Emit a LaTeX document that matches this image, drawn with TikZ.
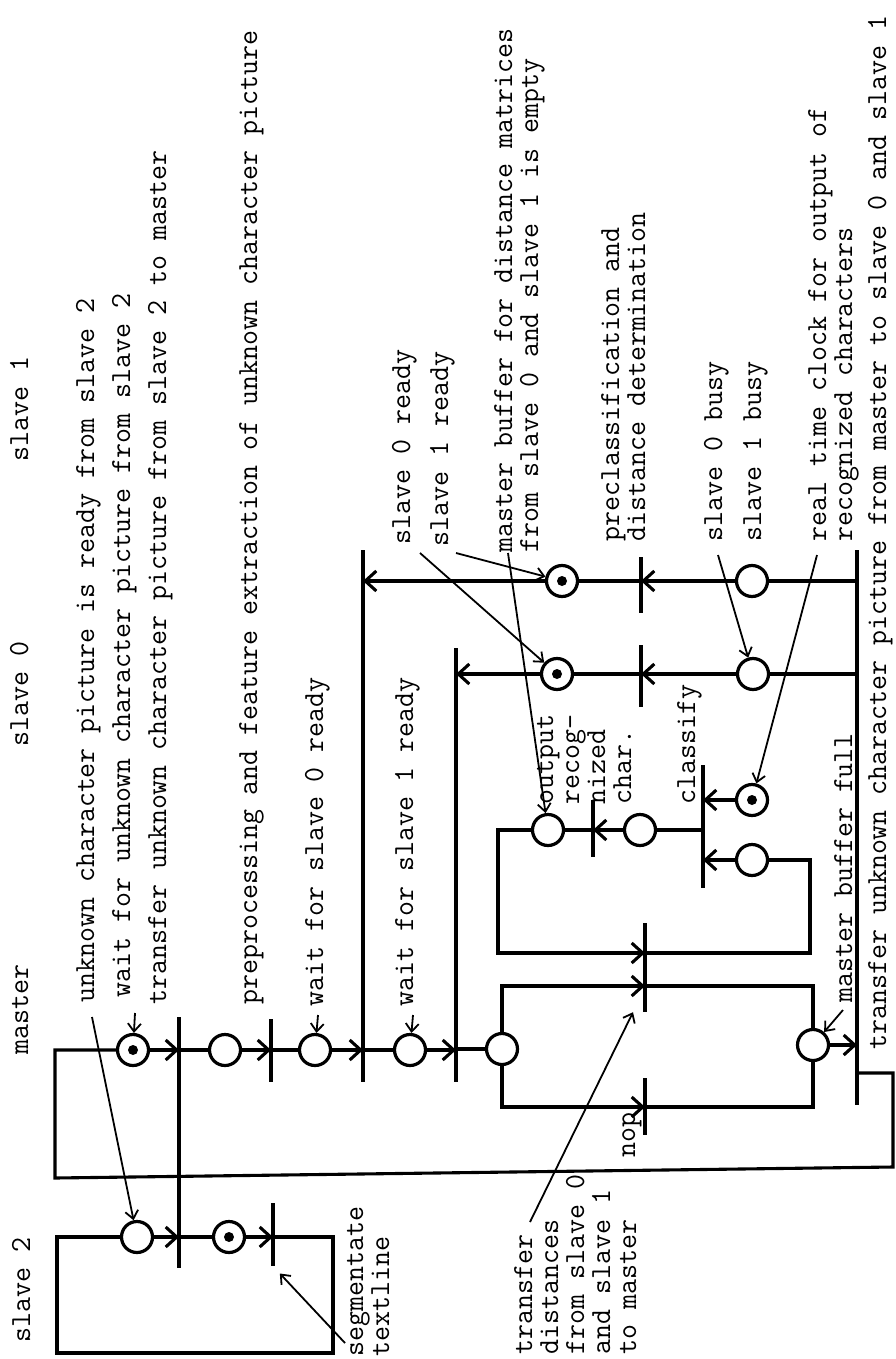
\documentclass[tikz,border=0pt]{standalone}
\usepackage{fontspec}
\usetikzlibrary{arrows.meta}
\begin{document}
\begin{tikzpicture}[x=1pt,y=-1pt,
  place/.style={circle,draw,line width=3.2pt,minimum size=31pt,inner sep=0pt},
  marked/.style={place,path picture={\fill (path picture bounding box.center) circle (5pt);}},
  trans/.style={rectangle,fill=black,minimum width=3.8pt,inner sep=0pt},
  arc/.style={line width=3.1pt},
  arr/.style={arc,-{Straight Barb[length=11pt,width=20pt]}},
  ptr/.style={line width=1.8pt},
  parr/.style={ptr,-{Straight Barb[length=8pt,width=13pt]}},
  lbl/.style={rotate=90,anchor=base west,inner sep=0pt,font=\ttfamily\fontsize{29.1}{26}\selectfont},
]
\useasboundingbox (0,0) rectangle (895,1359);

% transitions
\node[trans,minimum height=251pt] (t1) at (179,1142.5) {};
\node[trans,minimum height=63pt] (t2) at (271,1050.5) {};
\node[trans,minimum height=532pt] (t3) at (363,816) {};
\node[trans,minimum height=434pt] (t4) at (456,865) {};
\node[trans,minimum height=555pt] (t5) at (857,827.5) {};
\node[trans,minimum height=56pt] (t6) at (641,585) {};
\node[trans,minimum height=62pt] (t7) at (641,676) {};
\node[trans,minimum height=123pt] (t8) at (703,826.5) {};
\node[trans,minimum height=57pt] (t9) at (593,828.5) {};
\node[trans,minimum height=89pt] (t10) at (645,967.5) {};
\node[trans,minimum height=57pt] (t11) at (645,1106.5) {};
\node[trans,minimum height=63pt] (tseg) at (273,1234.5) {};

% places
\node[marked] (pm1) at (133,1050) {};
\node[place] (pm2) at (225,1050) {};
\node[place] (pm3) at (315,1050) {};
\node[place] (pm4) at (410,1050) {};
\node[place] (pm5) at (502,1049) {};
\node[place] (ps2a) at (137,1237) {};
\node[marked] (ps2b) at (229,1237) {};
\node[marked] (pr1) at (562,581) {};
\node[marked] (pr0) at (557,674) {};
\node[place] (pb1) at (752,581) {};
\node[place] (pb0) at (753,674) {};
\node[marked] (pclk) at (752,800) {};
\node[place] (pcl) at (752,860) {};
\node[place] (pcr) at (640,830) {};
\node[place] (pmbe) at (548,830) {};
\node[place] (pfull) at (813,1045) {};

% master row
\draw[arr] (pm1) -- (pm1 -| t1);
\draw[arc] (t1 |- pm2) -- (pm2);
\draw[arr] (pm2) -- (pm2 -| t2);
\draw[arc] (t2 |- pm3) -- (pm3);
\draw[arr] (pm3) -- (pm3 -| t3);
\draw[arc] (t3 |- pm4) -- (pm4);
\draw[arr] (pm4) -- (pm4 -| t4);
\draw[arc] (t4 |- pm5) -- (pm5);

% slave 2 row
\draw[arr] (ps2a) -- (ps2a -| t1);
\draw[arc] (t1 |- ps2b) -- (ps2b);
\draw[arr] (ps2b) -- (ps2b -| tseg);
\draw[arc] (tseg |- ps2b) -- (333,1237) -- (333,1353) -- (57,1353) -- (57,1237) -- (ps2a);

% master loop
\draw[arc] (t5 |- 0,1073) -- (893,1073) -- (893,1167) -- (55,1178) -- (55,1050) -- (pm1);

% slave rows
\draw[arc] (t5 |- pb1) -- (pb1);
\draw[arr] (pb1) -- (pb1 -| t6);
\draw[arc] (t6 |- pr1) -- (pr1);
\draw[arr] (pr1) -- (pr1 -| t3);
\draw[arc] (t5 |- pb0) -- (pb0);
\draw[arr] (pb0) -- (pb0 -| t7);
\draw[arc] (t7 |- pr0) -- (pr0);
\draw[arr] (pr0) -- (pr0 -| t4);

% classify / output
\draw[arr] (pclk) -- (pclk -| t8);
\draw[arr] (pcl) -- (pcl -| t8);
\draw[arc] (t8 |- pcr) -- (pcr);
\draw[arr] (pcr) -- (pcr -| t9);
\draw[arc] (t9 |- pmbe) -- (pmbe);
\draw[arr] (pmbe) -- (498,830) -- (498,953) -- (t10 |- 0,953);
\draw[arc] (t10 |- 0,953) -- (810,953) -- (810,860) -- (pcl);
\draw[arr] (pm5.north) -- (pm5.north |- 0,986) -- (t10 |- 0,986);
\draw[arc] (t10 |- 0,986) -- (813,986) -- (pfull);
\draw[arr] (pm5.south) -- (pm5.south |- 0,1107) -- (t11 |- 0,1107);
\draw[arc] (t11 |- 0,1107) -- (813,1107) -- (pfull);
\draw[arr] (pfull) -- (pfull -| t5);

% labels
\node[lbl] (hm) at (28,1055) {master};
\node[lbl] (hs0) at (28,747) {slave 0};
\node[lbl] (hs1) at (28,462) {slave 1};
\node[lbl] (hs2) at (30,1343) {slave 2};
\node[lbl] (l1) at (94,1003) {unknown character picture is ready from slave 2};
\node[lbl] (l2) at (130,998) {wait for unknown character picture from slave 2};
\node[lbl] (l3) at (166,1005) {transfer unknown character picture from slave 2 to master};
\node[lbl] (l4) at (257,1005) {preprocessing and feature extraction of unknown character picture};
\node[lbl] (l5) at (323,1007) {wait for slave 0 ready};
\node[lbl] (l6) at (413,1007) {wait for slave 1 ready};
\node[lbl] (r1) at (410,545) {slave 0 ready};
\node[lbl] (r2) at (448,547) {slave 1 ready};
\node[lbl] (r3) at (512,553) {\vtop{\hbox{master buffer for distance matrices}\hbox{from slave 0 and slave 1 is empty}}};
\node[lbl] (r4) at (619,542) {\vtop{\hbox{preclassification and}\hbox{distance determination}}};
\node[lbl] (r5) at (722,542) {slave 0 busy};
\node[lbl] (r6) at (761,542) {slave 1 busy};
\node[lbl] (r7) at (826,542) {\vtop{\hbox{real time clock for output of}\hbox{recognized characters}}};
\node[lbl] (r8) at (886,1050) {transfer unknown character picture from master to slave 0 and slave 1};
\node[lbl] (r9) at (852,1003) {master buffer full};
\node[lbl] (r10) at (695,805) {classify};
\node[lbl] (r11) at (553,805) {\vtop{\hbox{output}\hbox{recog-}\hbox{nized}\hbox{char.}}};
\node[lbl] (r12) at (635,1158) {nop};
\node[lbl] (r13) at (532,1355) {\vtop{\hbox{transfer}\hbox{distances}\hbox{from slave 0}\hbox{and slave 1}\hbox{to master}}};
\node[lbl] (r14) at (363,1357) {\vtop{\hbox{segmentate}\hbox{textline}}};

% pointers
\coordinate (c1) at (92,1017);
\coordinate (c2) at (135,1013);
\coordinate (c3) at (318,1015);
\coordinate (c4) at (413,1015);
\coordinate (c5) at (420,553);
\coordinate (c6) at (456,553);
\coordinate (c7) at (508,553);
\coordinate (c8) at (718,555);
\coordinate (c9) at (817,555);
\coordinate (c10) at (843,1010);
\coordinate (c11) at (345,1343);
\coordinate (c12) at (530,1222);
\draw[parr] (c1) -- (ps2a);
\draw[parr] (c2) -- (pm1);
\draw[parr] (c3) -- (pm3);
\draw[parr] (c4) -- (pm4);
\draw[parr] (c5) -- (pr0);
\draw[parr] (c6) -- (pr1);
\draw[parr] (c7) -- (pmbe);
\draw[parr] (c8) -- (pb0);
\draw[parr] (c9) -- (pclk);
\draw[parr] (c10) -- (pfull);
\draw[parr,shorten >=10pt] (c11) -- (tseg.south);
\draw[parr] (c12) -- ([xshift=-12pt]t10.south);
\end{tikzpicture}
\end{document}
